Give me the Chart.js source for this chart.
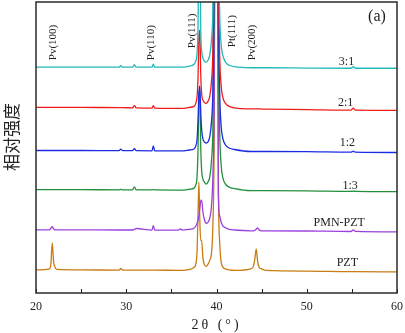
<!DOCTYPE html>
<html><head><meta charset="utf-8">
<script src="https://cdn.jsdelivr.net/npm/chart.js@4/dist/chart.umd.min.js"></script>
<style>html,body{margin:0;padding:0;background:#fff}</style>
</head><body>
<canvas id="c" width="405" height="333" style="width:405px;height:333px;display:block"></canvas>
<script>
const angles = [20, 21.5, 21.65, 21.8, 21.95, 22.1, 22.3, 25, 29.2, 29.4, 29.6, 30.7, 30.9, 31.1, 32.85, 33.0, 33.15, 35.8, 36.0, 36.2,
  37.0, 37.5, 37.7, 37.85, 37.95, 38.05, 38.15, 38.25, 38.35, 38.5, 38.65, 38.85, 39.05, 39.25, 39.45, 39.6, 39.75, 39.9, 40.05, 40.2, 40.35, 40.5, 40.7, 41.0, 41.4, 42.0,
  43.8, 44.1, 44.25, 44.4, 44.55, 44.7, 45.0, 45.5, 50, 54.9, 55.15, 55.4, 60];

const seriesNames = ['3:1', '2:1', '1:2', '1:3', 'PMN-PZT', 'PZT'];
// vertical stacking offsets of each pattern
const offsets = [222, 181, 139, 100, 60, 20];

const int31 = [3,3,3,3,3,3,3,3, 3,4.5,3, 3,5.5,3, 3,6,3, 3,3,3,
  4,6,9,18,43,120,150,43,20,12,9,8,10,15,31,63,200,400,400,150,57,27,15,8,5,3.5,
  2.5,2.5,2.5,2.5,2.5,2.5,2.5,2.5,2.2,2,3.5,2,2];
const int21 = [4,4,4,4,4,4,4,4, 3.7,3.7,3.7, 3.5,6,3.5, 3.3,5.8,3.3, 3,3,3,
  4,5,8,15,33,73,81,38,18,11,9,8,10,15,31,63,200,400,400,150,57,27,14,8,5,3.5,
  2.5,2.5,2.5,2.5,2.5,2.5,2.3,2.2,1.8,1.2,3.2,1.2,1];
const int12 = [3,3,3,3,3,3,3,3, 2.8,4.3,2.8, 2.8,4.8,2.8, 2.7,7.7,2.7, 2.6,2.6,2.6,
  3.5,4.5,7.5,14.5,32.5,60,67.5,42.5,24.5,14.5,11.5,10.5,11.5,16.5,32.5,64.5,200,500,500,160,62,29,15,8.5,5.5,4,
  2,2,2,2,2,2,2,2,1.8,1.3,2.3,1.3,1];
const int13 = [3,3,3,3,3,3,3,3, 2.8,3.3,2.8, 2.8,5.8,2.8, 2.7,3.2,2.7, 2.6,2.6,2.6,
  3.5,4.5,7.5,16.5,42.5,92.5,102.5,47.5,22.5,13.5,10.5,8.5,10.5,15.5,32.5,64.5,200,500,500,160,62,29,15,8.5,5.5,4,
  2,2,2,2,2,2,2,2,1.8,1.3,1.5,1.3,1];
const intPMN = [3,3,4.5,6,4,3,3,3, 2.8,2.8,2.8, 2.8,3.5,4.3, 2.7,7,2.7, 2.6,3.8,2.6,
  3.5,4.5,6.5,9.5,12.5,17.5,24.5,31.5,32.5,20.5,13.5,9.5,10.5,14.5,27.5,57.5,150,600,600,42,17,11,7,5,3.5,2.8,
  2,2,2.5,3.5,5,3,2,2,1.8,1.3,2.8,1.5,1];
const intPZT = [3,4,9,30,11,6,3.5,3, 2.8,4.5,2.8, 2.8,2.8,2.8, 2.7,2.7,2.7, 2.6,2.6,2.6,
  3.5,5.5,8.5,22.5,57.5,90.5,52.5,32.5,32.5,14.5,8.5,6.5,8.5,12.5,20.5,48.5,150,600,600,100,31,12,6,4,3,2.5,
  4,7,14,24,12,6,4,2.5,1.8,1.3,1.3,1.3,1];

const intensities = [int31, int21, int12, int13, intPMN, intPZT];
const colors = ['#22b9b9', '#f01c1c', '#1a2de2', '#23903a', '#9b40e0', '#c97c12'];

const peakLabels = ['Pv(100)', 'Pv(110)', 'Pv(111)', 'Pt(111)', 'Pv(200)'];
const peakAngles = [21.9, 32.7, 37.3, 41.7, 43.9];

const datasets = seriesNames.map((name, s) => ({
  label: name,
  data: angles.map((a, i) => ({ x: a, y: intensities[s][i] + offsets[s] })),
  borderColor: colors[s],
  borderWidth: 1.3,
  pointRadius: 0,
  fill: false,
  cubicInterpolationMode: 'monotone'
}));

const decor = {
  id: 'decor',
  afterDatasetsDraw(chart) {
    const { ctx, chartArea: a, scales: { x, y } } = chart;
    ctx.save();
    // inward ticks every 5 degrees
    ctx.strokeStyle = '#222';
    ctx.lineWidth = 1;
    for (let v = 20; v <= 60; v += 5) {
      const px = Math.round(x.getPixelForValue(v)) + 0.5;
      ctx.beginPath(); ctx.moveTo(px, a.bottom); ctx.lineTo(px, a.bottom - 4); ctx.stroke();
    }
    // frame
    ctx.strokeStyle = '#2b2b2b';
    ctx.lineWidth = 1.5;
    ctx.strokeRect(a.left, a.top, a.right - a.left, a.bottom - a.top);

    // peak labels (vertical)
    const peakBottoms = [232, 232, 244, 245, 232];
    ctx.fillStyle = '#222';
    ctx.font = '11px "Liberation Serif", serif';
    ctx.textAlign = 'left';
    ctx.textBaseline = 'middle';
    peakLabels.forEach((t, i) => {
      ctx.save();
      ctx.translate(x.getPixelForValue(peakAngles[i]), y.getPixelForValue(peakBottoms[i]));
      ctx.rotate(-Math.PI / 2);
      ctx.fillText(t, 0, 0);
      ctx.restore();
    });

    // series labels
    const labelPos = [[54.4, 230], [54.3, 190], [54.5, 150], [54.8, 107], [53.6, 70], [54.5, 30]];
    ctx.textAlign = 'center';
    ctx.font = '12px "Liberation Serif", serif';
    seriesNames.forEach((t, i) => {
      ctx.fillText(t, x.getPixelForValue(labelPos[i][0]), y.getPixelForValue(labelPos[i][1]));
    });

    // panel tag
    ctx.font = '16px "Liberation Serif", serif';
    ctx.fillText('(a)', 377, 17);

    // axis titles
    ctx.font = '14px "Liberation Serif", serif';
    ctx.letterSpacing = '3px';
    ctx.fillText('2θ (°)', (a.left + a.right) / 2, 325);
    ctx.letterSpacing = '0px';

    ctx.save();
    ctx.font = '17px "Noto Sans CJK SC", sans-serif';
    ctx.translate(12, 137);
    ctx.rotate(-Math.PI / 2);
    ctx.fillText('相对强度', 0, 0);
    ctx.restore();
    ctx.restore();
  }
};

new Chart(document.getElementById('c'), {
  type: 'line',
  data: { datasets },
  options: {
    responsive: false,
    animation: false,
    devicePixelRatio: 1,
    layout: { padding: { left: 36, right: 8, top: 2, bottom: 11.6 } },
    plugins: { legend: { display: false }, tooltip: { enabled: false } },
    scales: {
      x: {
        type: 'linear', min: 20, max: 60,
        grid: { display: false, drawTicks: false },
        border: { display: false },
        afterFit(scale) { scale.paddingLeft = 0; scale.paddingRight = 0; },
        ticks: {
          stepSize: 10, padding: 7, color: '#222',
          font: { family: '"Liberation Serif", serif', size: 12 },
          maxRotation: 0
        }
      },
      y: { type: 'linear', min: 0, max: 290, display: false }
    }
  },
  plugins: [decor]
});
</script>
</body></html>
